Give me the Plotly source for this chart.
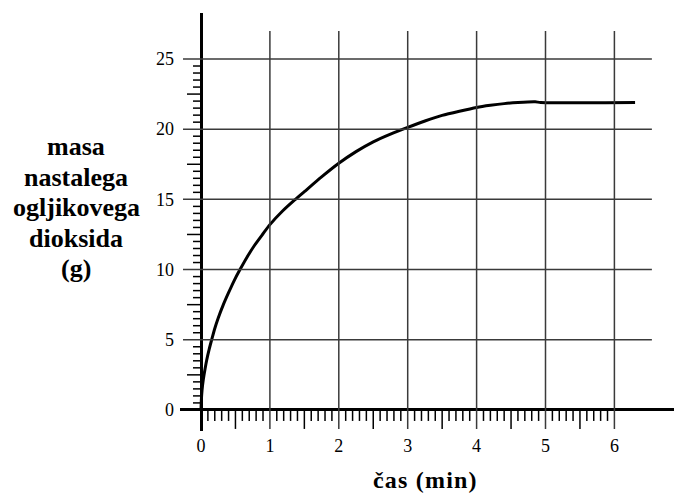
import plotly.graph_objects as go

# data
time_min = [0, 0.005, 0.015, 0.033, 0.06, 0.083, 0.12, 0.155, 0.2, 0.25, 0.32, 0.40, 0.48,
            0.566, 0.67, 0.78, 0.9, 1.0, 1.18, 1.36, 1.5, 1.75, 2.0, 2.25, 2.5, 2.75, 3.0,
            3.25, 3.5, 3.75, 4.0, 4.2, 4.4, 4.6, 4.85, 4.93, 6.3]
mass_g = [0, 0.7, 1.4, 2.14, 2.95, 3.56, 4.35, 5.0, 5.8, 6.55, 7.45, 8.35, 9.2,
          10.0, 10.9, 11.75, 12.55, 13.2, 14.15, 14.96, 15.55, 16.6, 17.57, 18.4, 19.1, 19.65, 20.13,
          20.58, 20.98, 21.28, 21.55, 21.7, 21.82, 21.9, 21.95, 21.9, 21.9]

x_tick_vals = [0, 1, 2, 3, 4, 5, 6]
x_tick_text = ["0", "1", "2", "3", "4", "5", "6"]
y_tick_vals = [0, 5, 10, 15, 20, 25]
y_tick_text = ["0", "5", "10", "15", "20", "25"]

x_title = "čas (min)"
y_title_lines = ["masa", "nastalega", "ogljikovega", "dioksida", "(g)"]

# geometry (data units)
X_RANGE = [-0.3048, 6.865]
Y_RANGE = [-1.50, 28.276]
PX_X = 68.92   # pixels per minute
PX_Y = 14.04   # pixels per gram
ML, MT, MB = 180, 13, 494 - 431
PW, PH = 674 - ML, 431 - MT

fig = go.Figure()

fig.add_trace(go.Scatter(
    x=time_min, y=mass_g, mode="lines",
    line=dict(color="black", width=3, shape="spline", smoothing=0.6),
    hoverinfo="skip", showlegend=False, cliponaxis=False,
))

shapes = []
grid_col = "#3a3a3a"
for t in x_tick_vals[1:]:
    shapes.append(dict(type="line", xref="x", yref="y", x0=t, x1=t,
                       y0=-19 / PX_Y, y1=27.0, line=dict(color=grid_col, width=1.5)))
for v in y_tick_vals[1:]:
    shapes.append(dict(type="line", xref="x", yref="y", x0=-18 / PX_X, x1=6.544,
                       y0=v, y1=v, line=dict(color=grid_col, width=1.5)))
for i in range(1, 60):
    if i % 10 == 0:
        continue
    ln = 19 if i % 5 == 0 else 11
    shapes.append(dict(type="line", xref="x", yref="y", x0=i / 10, x1=i / 10,
                       y0=0, y1=-ln / PX_Y, line=dict(color="black", width=1.5)))
for i in range(1, 50):
    if i % 10 == 0:
        continue
    ln = 14 if i % 5 == 0 else 8
    shapes.append(dict(type="line", xref="x", yref="y", x0=0, x1=-ln / PX_X,
                       y0=i / 2, y1=i / 2, line=dict(color="black", width=1.5)))

serif = "Liberation Serif"

annotations = []
# y-axis title, one line per annotation (reference line pitch ~30 px)
y_line_centres_px = [146.5, 177, 207.5, 238, 268.5]
for txt, py in zip(y_title_lines, y_line_centres_px):
    annotations.append(dict(
        xref="paper", yref="paper", x=(76 - ML) / PW, y=(431 - py) / PH, showarrow=False,
        text=f"<b>{txt}</b>", font=dict(family=serif, size=26, color="black"),
        xanchor="center", yanchor="middle"))
annotations.append(dict(
    xref="paper", yref="paper", x=(425 - ML) / PW, y=(431 - 480) / PH, showarrow=False,
    text=f'<b><span style="letter-spacing:1.2px">{x_title}</span></b>',
    font=dict(family=serif, size=24, color="black"),
    xanchor="center", yanchor="middle"))

fig.update_layout(
    width=674, height=494,
    margin=dict(l=ML, r=0, t=MT, b=MB, autoexpand=False),
    paper_bgcolor="white", plot_bgcolor="white",
    showlegend=False,
    font=dict(family=serif, color="black"),
    shapes=shapes, annotations=annotations,
    xaxis=dict(range=X_RANGE, tickmode="array", tickvals=x_tick_vals, ticktext=x_tick_text,
               showgrid=False, showline=False, ticks="",
               zeroline=True, zerolinecolor="black", zerolinewidth=3,
               tickfont=dict(family=serif, size=18, color="black"), ticklabelstandoff=2,
               fixedrange=True, automargin=False),
    yaxis=dict(range=Y_RANGE, tickmode="array", tickvals=y_tick_vals, ticktext=y_tick_text,
               showgrid=False, showline=False, ticks="",
               zeroline=True, zerolinecolor="black", zerolinewidth=3,
               tickfont=dict(family=serif, size=18, color="black"), ticklabelstandoff=5,
               fixedrange=True, automargin=False),
)

fig.write_html("out.html", config={"displayModeBar": False},
               post_script="document.body.style.margin='0';document.body.style.padding='0';")
